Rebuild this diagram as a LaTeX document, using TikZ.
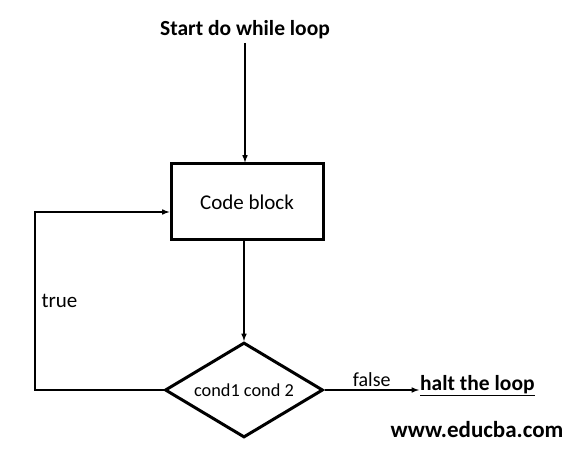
\documentclass[tikz,border=0pt]{standalone}
\usepackage{fontspec}
\setmainfont{Carlito}
\usetikzlibrary{shapes.geometric}

\begin{document}
\begin{tikzpicture}[x=1pt, y=-1pt, >=latex]
        \useasboundingbox (0,0) rectangle (582,449);
        \tikzset{line/.style={line width=1.5pt}}
        \node[font=\bfseries\fontsize{21.5}{24}\selectfont] (start) at (245,30) {Start do while loop};
        \node[draw, line width=3pt, minimum width=152pt, minimum height=76pt, font=\fontsize{21}{24}\selectfont] (code) at (247,202) {Code block};
        \node[draw, diamond, aspect=1.66, line width=3pt, minimum width=158pt, minimum height=95pt, inner sep=0pt, font=\fontsize{18.3}{21}\selectfont] (cond) at (244,390) {cond1 cond 2};
        \coordinate (bl) at (35,390);
        \coordinate (tl) at (35,212);
        \node[anchor=west, inner sep=1pt, font=\bfseries\fontsize{21.5}{24}\selectfont] (halt) at (419,386) {\underline{halt the loop}};
        \node[font=\bfseries\fontsize{23}{26}\selectfont] (web) at (477,430) {www.educba.com};
        \draw[line, ->] (start) -- (code.north -| start);
        \draw[line, ->] (code.south -| cond) -- (cond.north);
        \draw[line, ->] (cond.west) -- (bl) -- (tl) -- (tl -| code.west);
        \draw[line, ->] (cond.east) -- (halt.west |- cond) node[midway, above, yshift=-1pt, font=\fontsize{20}{23}\selectfont] {false};
        \node[anchor=west, font=\fontsize{21}{24}\selectfont] (true) at (38,301) {true};
    \end{tikzpicture}
\end{document}
